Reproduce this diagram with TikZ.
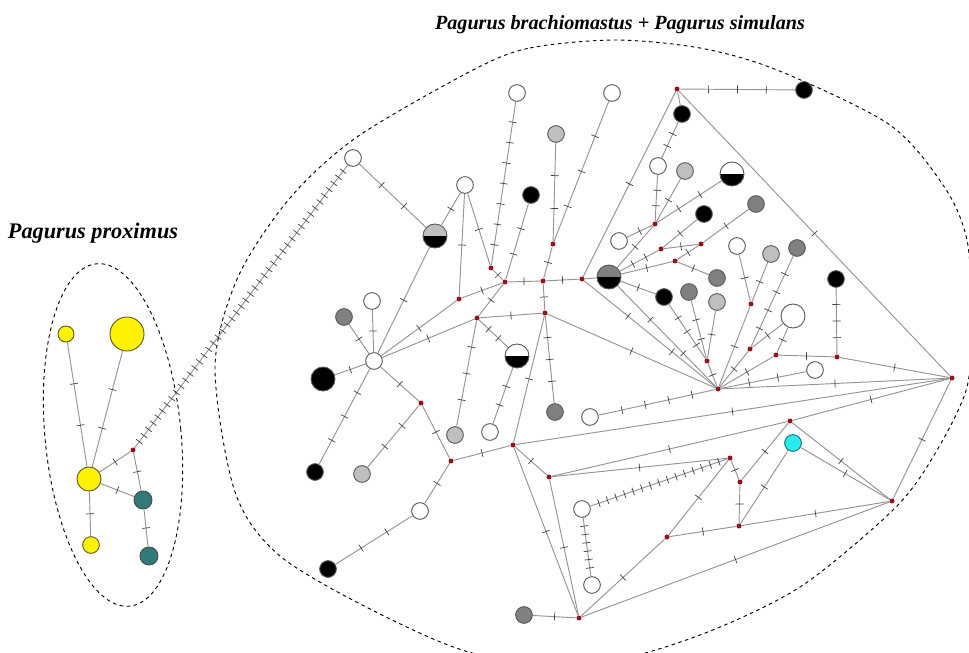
\documentclass[tikz,border=0pt]{standalone}
\usepackage{fontspec}
\setmainfont{Liberation Serif}
\newcommand{\hlink}[3]{\draw[link] (#1) -- (#2) foreach \tk [evaluate=\tk as \tpos using \tk/(#3+1)] in {1,...,#3} {node[tick, pos=\tpos] {}};}
\newcommand{\plink}[2]{\draw[link] (#1) -- (#2);}

\begin{document}
\begin{tikzpicture}[x=0.03cm, y=-0.03cm,
    hap/.style={circle, draw=black!65, line width=0.8pt, minimum size=0.5cm, inner sep=0pt},
    big/.style={minimum size=0.72cm},
    white/.style={hap, fill=white},
    lgrey/.style={hap, fill=gray!50},
    dgrey/.style={hap, fill=gray},
    blk/.style={hap, fill=black},
    yel/.style={hap, fill=yellow, draw=black!45!olive},
    tealhap/.style={hap, fill={rgb,255:red,50;green,122;blue,122}, draw=black!70},
    cyanhap/.style={hap, fill={rgb,255:red,40;green,235;blue,240}, draw={rgb,255:red,20;green,110;blue,120}},
    halflow/.style={path picture={\fill[black] (path picture bounding box.west) rectangle (path picture bounding box.south east);}},
    mv/.style={circle, fill={rgb,255:red,150;green,20;blue,25}, minimum size=0.15cm, inner sep=0pt},
    link/.style={draw=black!42, line width=0.8pt},
    tick/.style={sloped, allow upside down, rectangle, draw=black!75, line width=0.6pt, inner sep=0pt, minimum width=0pt, minimum height=0.24cm},
    grouplabel/.style={font=\fontsize{18}{20}\selectfont\bfseries\itshape}]
\useasboundingbox (0,0) rectangle (969,653);

% Group outlines and labels
\draw[dashed, line width=0.8pt, rotate around={5.5:(113,435)}] (113,435) ellipse [x radius=68, y radius=172];
\draw[dashed, line width=0.8pt] plot[smooth cycle] coordinates {(473,70) (530,48) (615,40) (700,48) (777,70) (890,125) (945,188) (967,240) (971,310) (967,387) (933,457) (893,510) (800,587) (700,635) (600,662) (480,655) (380,614) (280,556) (235,492) (215,367) (238,277) (290,198) (357,137)};
\node[grouplabel, font=\fontsize{19}{21}\selectfont\bfseries\itshape] (lblprox) at (93,233) {Pagurus proximus};
\node[grouplabel, font=\fontsize{17.2}{20}\selectfont\bfseries\itshape] (lblbrach) at (620,25) {Pagurus brachiomastus + Pagurus simulans};

% Pagurus proximus
\node[yel, minimum size=0.48cm] (py1) at (66,334) {};
\node[yel, minimum size=1.02cm] (py2) at (127,334) {};
\node[yel, minimum size=0.72cm] (py3) at (89,479) {};
\node[yel, minimum size=0.5cm] (py4) at (91,545) {};
\node[tealhap, minimum size=0.54cm] (pt1) at (143,500) {};
\node[tealhap, minimum size=0.54cm] (pt2) at (149,556) {};
\node[mv] (m0) at (133,450) {};

% Haplotypes, brachiomastus + simulans
\node[white] (w1) at (353,158) {};
\node[lgrey, big, halflow] (hgb1) at (435,236) {};
\node[white] (w2) at (465,185) {};
\node[white] (w3) at (517,93) {};
\node[lgrey] (g1) at (556,134) {};
\node[blk] (b1) at (531,195) {};
\node[white] (w4) at (612,93) {};
\node[dgrey, big, halflow] (hgb2) at (609,277) {};
\node[white] (w5) at (619,241) {};
\node[blk] (b2) at (804,90) {};
\node[blk] (b3) at (682,114) {};
\node[white] (w6) at (658,166) {};
\node[lgrey] (g2) at (685,171) {};
\node[white, big, halflow] (hwb1) at (732,174) {};
\node[dgrey] (dg1) at (756,204) {};
\node[blk] (b4) at (704,214) {};
\node[white] (w7) at (737,246) {};
\node[lgrey] (g3) at (771,254) {};
\node[dgrey] (dg2) at (797,248) {};
\node[dgrey] (dg3) at (717,278) {};
\node[blk] (b5) at (664,297) {};
\node[dgrey] (dg4) at (689,292) {};
\node[lgrey] (g4) at (717,302) {};
\node[blk] (b6) at (836,279) {};
\node[white, big] (w8) at (793,316) {};
\node[white] (w9) at (815,370) {};
\node[white] (w10) at (590,417) {};
\node[cyanhap] (cy) at (793,443) {};
\node[white] (w11) at (372,301) {};
\node[dgrey] (dg5) at (344,317) {};
\node[white] (w12) at (374,361) {};
\node[blk, big] (b7) at (323,379) {};
\node[white, big, halflow] (hwb2) at (517,356) {};
\node[lgrey] (g5) at (455,435) {};
\node[white] (w13) at (490,432) {};
\node[dgrey] (dg6) at (555,412) {};
\node[blk] (b8) at (315,472) {};
\node[lgrey] (g6) at (362,474) {};
\node[white] (w15) at (420,511) {};
\node[blk] (b9) at (328,569) {};
\node[dgrey] (dg7) at (524,615) {};
\node[white] (w16) at (582,509) {};
\node[white] (w17) at (592,585) {};

% Median vectors
\foreach \mname/\mx/\my in {m1/491/268, m2/505/282, m3/543/281, m4/553/244, m5/582/279,
    m6/459/299, m7/545/313, m8/477/318, m9/677/89, m10/655/224, m11/661/249, m12/701/244,
    m13/675/261, m14/751/304, m15/718/389, m16/707/361, m18/750/349, m19/776/355,
    m20/837/357, m21/952/378, m22/790/421, m29/421/403, m30/451/461, m31/513/445,
    m32/549/477, m33/579/618, m34/730/458, m35/740/482, m36/739/526, m37/667/537, m38/892/501}
  \node[mv] (\mname) at (\mx,\my) {};

% Links, proximus
\hlink{py1}{py3}{2}
\hlink{py2}{py3}{2}
\hlink{py3}{py4}{1}
\hlink{py3}{m0}{1}
\hlink{py3}{pt1}{1}
\hlink{m0}{pt1}{1}
\hlink{pt1}{pt2}{1}
\hlink{m0}{w1}{45}

% Links, left part
\hlink{w1}{hgb1}{2}
\hlink{hgb1}{w2}{1}
\hlink{hgb1}{w12}{1}
\hlink{w2}{m6}{1}
\hlink{w2}{m1}{1}
\hlink{w3}{m1}{7}
\hlink{m1}{m2}{1}
\hlink{b1}{m2}{2}
\hlink{m2}{m3}{1}
\hlink{m3}{m5}{1}
\hlink{m3}{m4}{1}
\hlink{m4}{g1}{2}
\hlink{m4}{w4}{3}
\hlink{m3}{m7}{1}
\hlink{m2}{m8}{1}
\hlink{m6}{m2}{1}
\hlink{m6}{w12}{1}
\hlink{m8}{w12}{1}
\hlink{m8}{m7}{1}
\hlink{m8}{hwb2}{2}
\hlink{m8}{g5}{3}
\hlink{hwb2}{w13}{2}
\hlink{m7}{dg6}{3}
\hlink{m7}{m31}{1}
\hlink{m7}{m15}{1}
\hlink{m29}{w12}{1}
\hlink{m29}{g6}{2}
\hlink{w12}{b8}{3}
\hlink{w12}{w11}{1}
\hlink{w12}{dg5}{1}
\hlink{w12}{b7}{1}
\hlink{m30}{m31}{1}
\hlink{m30}{m29}{1}
\hlink{m30}{w15}{1}
\hlink{w15}{b9}{2}

% Links, upper right
\plink{m5}{hgb2}
\hlink{m5}{m15}{2}
\hlink{hgb2}{m15}{2}
\hlink{m5}{m9}{1}
\hlink{m9}{b2}{3}
\plink{m9}{b3}
\hlink{b3}{w6}{2}
\hlink{w6}{m10}{2}
\hlink{g2}{m10}{1}
\hlink{hwb1}{m10}{2}
\hlink{w5}{m10}{1}
\hlink{m10}{hgb2}{1}
\hlink{m9}{m21}{1}
\hlink{m11}{m12}{1}
\hlink{m12}{dg1}{1}
\hlink{m11}{b4}{1}
\hlink{m11}{hgb2}{2}
\hlink{m13}{hgb2}{1}
\hlink{m13}{m12}{1}
\hlink{m13}{dg3}{1}
\hlink{hgb2}{b5}{1}
\hlink{b5}{m16}{3}
\hlink{dg4}{m16}{2}
\hlink{g4}{m16}{1}
\hlink{m16}{m15}{1}
\hlink{w7}{m14}{1}
\hlink{g3}{m14}{1}
\hlink{m14}{m15}{1}
\hlink{dg2}{m18}{4}
\hlink{m18}{m15}{1}
\hlink{w8}{m18}{1}
\hlink{w8}{m19}{1}
\hlink{m19}{m15}{1}
\hlink{m19}{m20}{1}
\hlink{b6}{m20}{3}
\hlink{m20}{m21}{1}
\hlink{w9}{m15}{2}
\hlink{m15}{m21}{1}
\hlink{w10}{m15}{4}

% Links, lower right
\hlink{m21}{m31}{1}
\hlink{m21}{m22}{1}
\hlink{m22}{m32}{1}
\hlink{m22}{m35}{1}
\hlink{cy}{m36}{1}
\hlink{cy}{m38}{1}
\hlink{m22}{m38}{1}
\hlink{m34}{m35}{1}
\hlink{m35}{m36}{1}
\hlink{m36}{m38}{1}
\hlink{m36}{m37}{1}
\hlink{m37}{m34}{1}
\hlink{m37}{m33}{1}
\hlink{m33}{m38}{1}
\hlink{m38}{m21}{1}
\hlink{m32}{m34}{1}
\hlink{w16}{m34}{15}
\hlink{w16}{w17}{6}
\hlink{m31}{m32}{1}
\hlink{m31}{m33}{1}
\hlink{m32}{m33}{1}
\hlink{dg7}{m33}{1}
\end{tikzpicture}
\end{document}
